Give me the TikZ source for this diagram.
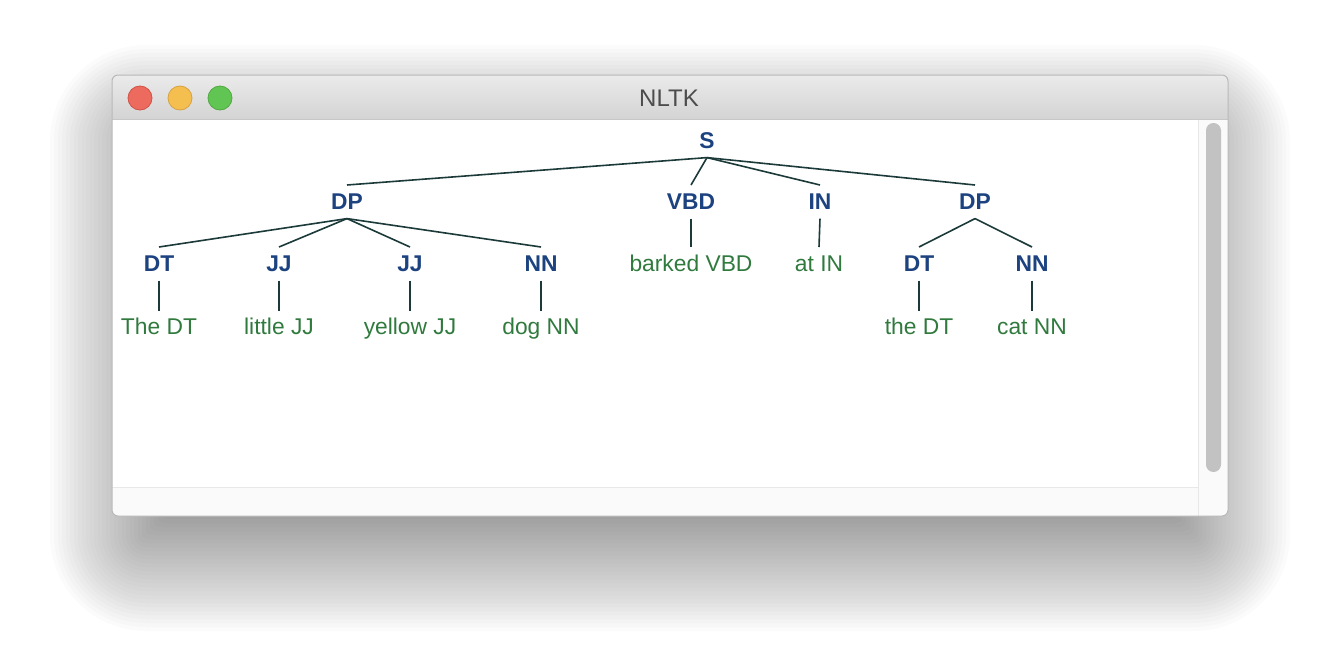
\documentclass[tikz,border=0pt]{standalone}
\usepackage{fontspec}
\setmainfont{Liberation Sans}
\usetikzlibrary{positioning}
\definecolor{tagblue}{RGB}{28,66,128}
\definecolor{leafgreen}{RGB}{48,122,62}
\definecolor{edgecol}{RGB}{28,58,58}
\begin{document}
\begin{tikzpicture}[x=0.5pt,y=-0.5pt,semithick]
		
		% Styles for the window and the tree
		\tikzstyle{tag}=[inner sep=0pt,text height=11.7pt,text depth=4.5pt,anchor=base,font=\fontsize{11.4pt}{13pt}\selectfont\bfseries,text=tagblue]
		\tikzstyle{leaf}=[inner sep=0pt,text height=11.7pt,text depth=4.5pt,font=\fontsize{11.4pt}{13pt}\selectfont,text=leafgreen]
		\tikzstyle{edge}=[draw=edgecol,line width=0.8pt]
		\tikzstyle{light}=[circle,minimum size=12pt,inner sep=0pt,line width=0.4pt]
		
		\useasboundingbox (0,0) rectangle (1340,664);
		
		% Soft shadow below the window
		\foreach \k in {0,...,35} {
			\pgfmathsetmacro\e{-50+4*\k}
			\pgfmathsetmacro\rad{3+max(\e,0)/2}
			\fill[black,opacity=0.014,rounded corners=\rad pt] (140-\e,135-\e) rectangle (1200+\e,541+\e);
		}
		
		% Window frame
		\fill[white,rounded corners=3pt] (112,75) rectangle (1228,516);
		\begin{scope}
			\clip[rounded corners=3pt] (112,75) rectangle (1228,516);
			\shade[top color=black!8,bottom color=black!17] (112,75) rectangle (1228,119);
			\fill[black!2] (112,487) rectangle (1198,516);
			\fill[black!2] (1198,119) rectangle (1228,516);
		\end{scope}
		\draw[black!22,line width=0.5pt] (112,119.5) -- (1228,119.5);
		\draw[black!9,line width=0.5pt] (112,487) -- (1198,487);
		\draw[black!9,line width=0.5pt] (1198.5,119.5) -- (1198.5,516);
		\fill[black!24,rounded corners=3.7pt] (1206,123) rectangle (1221,472);
		\draw[black!28,line width=0.5pt,rounded corners=3pt] (112,75) rectangle (1228,516);
		
		% Title bar
		\node[light,fill={rgb,255:red,237;green,106;blue,94},draw={rgb,255:red,208;green,82;blue,70}] (close) at (140,98) {};
		\node[light,fill={rgb,255:red,245;green,191;blue,79},draw={rgb,255:red,214;green,162;blue,67}] (minimize) at (180,98) {};
		\node[light,fill={rgb,255:red,97;green,197;blue,84},draw={rgb,255:red,82;green,168;blue,66}] (zoom) at (220,98) {};
		\node[font=\fontsize{12pt}{14pt}\selectfont,text=black!70] (title) at (669,98) {NLTK};
		
		% Nodes for the tree
		\node[tag] (S) at (707,148) {S};
		\node[tag] (DP1) at (347,209) {DP};
		\node[tag] (VBD) at (691,209) {VBD};
		\node[tag] (IN) at (820,209) {IN};
		\node[tag] (DP2) at (975,209) {DP};
		\node[tag] (DT1) at (159,271) {DT};
		\node[tag] (JJ1) at (279,271) {JJ};
		\node[tag] (JJ2) at (410,271) {JJ};
		\node[tag] (NN1) at (541,271) {NN};
		\node[leaf,anchor=base] (barked) at (691,271) {barked VBD};
		\node[leaf,anchor=base] (at) at (819,271) {at IN};
		\node[tag] (DT2) at (919,271) {DT};
		\node[tag] (NN2) at (1032,271) {NN};
		
		% Leaves
		\node[leaf,below=15pt of DT1] (the1) {The DT};
		\node[leaf,below=15pt of JJ1] (little) {little JJ};
		\node[leaf,below=15pt of JJ2] (yellow) {yellow JJ};
		\node[leaf,below=15pt of NN1] (dog) {dog NN};
		\node[leaf,below=15pt of DT2] (the2) {the DT};
		\node[leaf,below=15pt of NN2] (cat) {cat NN};
		
		% Branches
		\foreach \child in {DP1,VBD,IN,DP2}
			\draw[edge] (S.south) -- (\child.north);
		\foreach \child in {DT1,JJ1,JJ2,NN1}
			\draw[edge] (DP1.south) -- (\child.north);
		\foreach \child in {DT2,NN2}
			\draw[edge] (DP2.south) -- (\child.north);
		\draw[edge] (VBD.south) -- (barked.north);
		\draw[edge] (IN.south) -- (at.north);
		\draw[edge] (DT1.south) -- (the1.north);
		\draw[edge] (JJ1.south) -- (little.north);
		\draw[edge] (JJ2.south) -- (yellow.north);
		\draw[edge] (NN1.south) -- (dog.north);
		\draw[edge] (DT2.south) -- (the2.north);
		\draw[edge] (NN2.south) -- (cat.north);
		
	\end{tikzpicture}
\end{document}
